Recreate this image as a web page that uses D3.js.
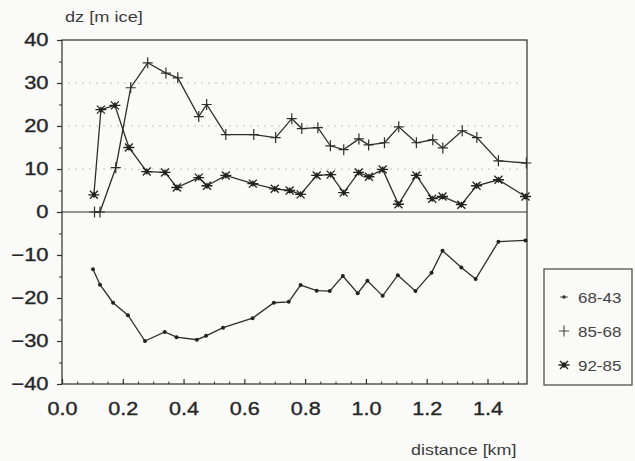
<!DOCTYPE html>
<html>
<head>
<meta charset="utf-8">
<script src="https://cdn.jsdelivr.net/npm/d3@7"></script>
<style>
  body { margin: 0; background: #fafaf8; }
  svg { display: block; }
</style>
</head>
<body>
<div id="chart"></div>
<script>
// distance [km] / dz [m ice] for each period
const dist6843 = [0.102, 0.125, 0.168, 0.217, 0.273, 0.338, 0.377, 0.444, 0.474, 0.53, 0.627, 0.697, 0.746, 0.785,
  0.838, 0.881, 0.924, 0.973, 1.005, 1.055, 1.105, 1.163, 1.216, 1.252, 1.314, 1.361, 1.436, 1.525];
const dz6843 = [-13.3, -16.9, -21.1, -24.0, -30.0, -27.9, -29.1, -29.7, -28.8, -26.9, -24.7, -21.1, -20.9, -17.0,
  -18.3, -18.4, -14.9, -18.9, -16.0, -19.5, -14.7, -18.4, -14.1, -9.0, -12.9, -15.6, -6.9, -6.6];

const dist8568 = [0.107, 0.125, 0.177, 0.226, 0.282, 0.342, 0.381, 0.45, 0.476, 0.539, 0.631, 0.703, 0.756, 0.789,
  0.842, 0.883, 0.927, 0.977, 1.009, 1.061, 1.108, 1.166, 1.22, 1.253, 1.317, 1.365, 1.436, 1.528];
const dz8568 = [0, 0, 10.3, 28.9, 34.7, 32.3, 31.2, 22.2, 25.0, 18.0, 18.0, 17.3, 21.7, 19.4,
  19.6, 15.4, 14.5, 17.0, 15.6, 16.1, 19.8, 16.1, 16.8, 14.9, 18.9, 17.3, 11.9, 11.4];

const dist9285 = [0.105, 0.128, 0.174, 0.22, 0.279, 0.339, 0.378, 0.45, 0.477, 0.539, 0.628, 0.70, 0.749, 0.785,
  0.838, 0.884, 0.927, 0.976, 1.01, 1.055, 1.107, 1.166, 1.218, 1.252, 1.314, 1.364, 1.436, 1.525];
const dz9285 = [4.0, 23.8, 24.8, 15.0, 9.4, 9.2, 5.7, 8.0, 6.1, 8.5, 6.6, 5.4, 5.0, 4.1,
  8.5, 8.7, 4.5, 9.2, 8.2, 9.9, 1.8, 8.5, 3.1, 3.6, 1.7, 6.1, 7.5, 3.6];

const xTicks = [0, 0.2, 0.4, 0.6, 0.8, 1.0, 1.2, 1.4];
const yTicks = [-40, -30, -20, -10, 0, 10, 20, 30, 40];
const gridLevels = [10, 20, 30];
const seriesNames = ["68-43", "85-68", "92-85"];

const width = 635, height = 461;
const ink = "#2e2e2e";
const font = "'Liberation Sans', Arial, Helvetica, sans-serif";

const svg = d3.select("#chart").append("svg")
  .attr("width", width)
  .attr("height", height)
  .style("background", "#fafaf8")
  .style("font-family", font);

const x = d3.scaleLinear().domain([0, 1.53]).range([62, 527]);
const y = d3.scaleLinear().domain([-40, 40]).range([384, 40]);

// faint dotted grid (upper half only, like the scan)
svg.append("g")
  .selectAll("line")
  .data(gridLevels)
  .join("line")
  .attr("x1", x(0) + 6).attr("x2", x.range()[1] - 6)
  .attr("y1", d => y(d)).attr("y2", d => y(d))
  .attr("stroke", "#c4c4c4")
  .attr("stroke-width", 1)
  .attr("stroke-dasharray", "2 5");

// frame
svg.append("rect")
  .attr("x", x(0)).attr("y", y(40))
  .attr("width", x.range()[1] - x(0))
  .attr("height", y(-40) - y(40))
  .attr("fill", "none")
  .attr("stroke", ink)
  .attr("stroke-width", 1.2);

// zero line
svg.append("line")
  .attr("x1", x(0)).attr("x2", x.range()[1])
  .attr("y1", y(0)).attr("y2", y(0))
  .attr("stroke", ink)
  .attr("stroke-width", 1.2);

// y axis
const yAxis = svg.append("g")
  .attr("transform", `translate(${x(0)},0)`)
  .call(d3.axisLeft(y).tickValues(yTicks).tickSize(5).tickPadding(6).tickFormat(d3.format("d")));
yAxis.select(".domain").remove();
yAxis.selectAll("line").attr("stroke", ink).attr("stroke-width", 1.2);
yAxis.selectAll("text")
  .attr("font-family", font)
  .attr("font-size", 18)
  .attr("fill", "#262626")
  .attr("stroke", "#262626")
  .attr("stroke-width", 0.35)
  .attr("transform", "scale(1.22,1)");

svg.append("g")
  .attr("transform", `translate(${x(0)},0)`)
  .call(d3.axisLeft(y).tickValues(d3.range(-35, 40, 10)).tickSize(3).tickFormat(""))
  .call(g => g.select(".domain").remove())
  .selectAll("line").attr("stroke", ink);

// x axis, ticks point inward
const xAxis = svg.append("g")
  .attr("transform", `translate(0,${y(-40)})`)
  .call(d3.axisBottom(x).tickValues(xTicks).tickSize(-5).tickPadding(18).tickFormat(d3.format(".1f")));
xAxis.select(".domain").remove();
xAxis.selectAll("line").attr("stroke", ink).attr("stroke-width", 1.2);
xAxis.selectAll("text")
  .attr("font-family", font)
  .attr("font-size", 18)
  .attr("fill", "#262626")
  .attr("stroke", "#262626")
  .attr("stroke-width", 0.35)
  .attr("transform", "scale(1.2,1)");

svg.append("g")
  .attr("transform", `translate(0,${y(-40)})`)
  .call(d3.axisBottom(x).tickValues(d3.range(0.05, 1.53, 0.05).filter(v => Math.abs(v * 5 - Math.round(v * 5)) > 0.01)).tickSize(-2.5).tickFormat(""))
  .call(g => g.select(".domain").remove())
  .selectAll("line").attr("stroke", ink);

// axis titles
function stretchedText(txt, px, py, size, sx, anchor) {
  return svg.append("text")
    .attr("transform", `translate(${px},${py}) scale(${sx},1)`)
    .attr("text-anchor", anchor || "start")
    .attr("font-size", size)
    .attr("fill", "#3c3c3c")
    .text(txt);
}
stretchedText("dz [m ice]", 65, 22, 14, 1.3);
stretchedText("distance [km]", 411, 455, 14, 1.28);

// markers
const plusPath = "M-5,0 L5,0 M0,-5.5 L0,5.5";
const starPath = "M-5.5,0 L5.5,0 M-4,-4 L4,4 M-4,4 L4,-4 M0,-3 L0,3";

function drawSeries(xs, ys, marker) {
  const pts = xs.map((d, i) => [d, ys[i]]);
  svg.append("path")
    .datum(pts)
    .attr("fill", "none")
    .attr("stroke", ink)
    .attr("stroke-width", 1.3)
    .attr("d", d3.line().x(d => x(d[0])).y(d => y(d[1])));

  const g = svg.append("g");
  const m = g.selectAll("g").data(pts).join("g")
    .attr("transform", d => `translate(${x(d[0])},${y(d[1])})`);
  if (marker === "dot") {
    m.append("circle").attr("r", 2).attr("fill", "#222");
  } else if (marker === "plus") {
    m.append("path").attr("d", plusPath).attr("stroke", ink).attr("stroke-width", 1.2);
  } else {
    m.append("path").attr("d", starPath).attr("stroke", "#222").attr("stroke-width", 1.3);
    m.append("circle").attr("r", 2).attr("fill", "#222");
  }
}

drawSeries(dist6843, dz6843, "dot");
drawSeries(dist8568, dz8568, "plus");
drawSeries(dist9285, dz9285, "star");

// legend
const legend = svg.append("g");
legend.append("rect")
  .attr("x", 544).attr("y", 269)
  .attr("width", 88).attr("height", 116)
  .attr("fill", "none")
  .attr("stroke", "#444")
  .attr("stroke-width", 1.2);

const legendMarkers = ["dot", "plus", "star"];
const legendRows = [297, 331, 365];
seriesNames.forEach((name, i) => {
  const row = legend.append("g").attr("transform", `translate(564,${legendRows[i]})`);
  if (legendMarkers[i] === "dot") {
    row.append("path").attr("d", "M-4,0 L4,0").attr("stroke", "#555").attr("stroke-width", 1);
    row.append("circle").attr("r", 1.8).attr("fill", "#333");
  } else if (legendMarkers[i] === "plus") {
    row.append("path").attr("d", plusPath).attr("stroke", "#444").attr("stroke-width", 1.1);
  } else {
    row.append("path").attr("d", starPath).attr("stroke", "#222").attr("stroke-width", 1.3);
    row.append("circle").attr("r", 2).attr("fill", "#222");
  }
  row.append("text")
    .attr("transform", "translate(14,5.5) scale(1.13,1)")
    .attr("font-size", 15)
    .attr("fill", "#444")
    .text(name);
});
</script>
</body>
</html>
